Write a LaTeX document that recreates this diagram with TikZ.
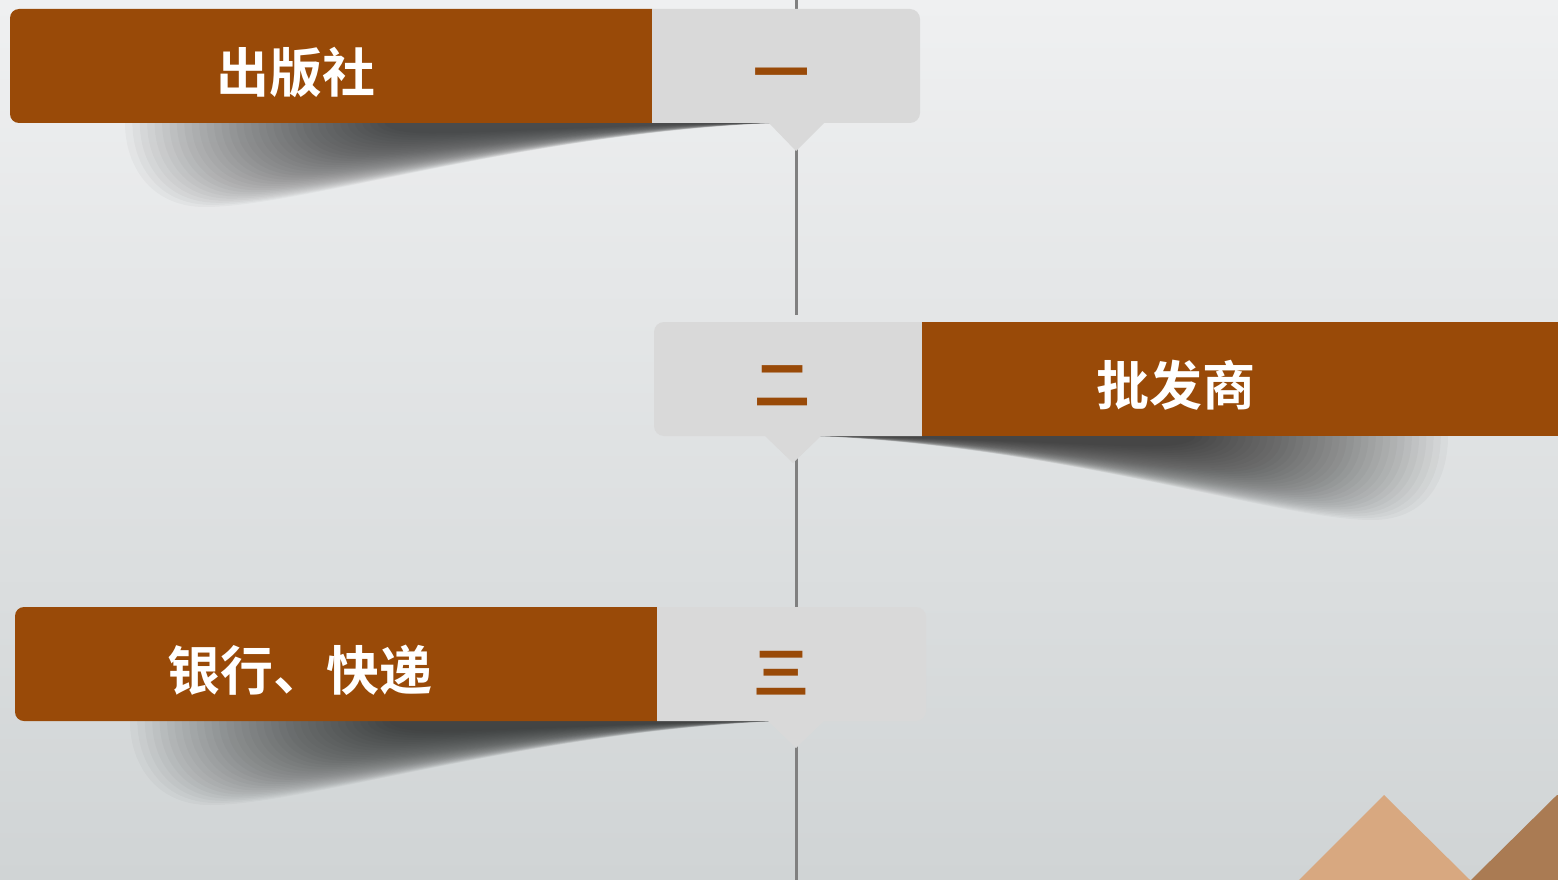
\documentclass[tikz,border=0pt]{standalone}
\usepackage{fontspec}
\newfontfamily\cjkb{Noto Sans CJK SC Bold}
\definecolor{bgtop}{RGB}{239,240,241}
\definecolor{bgbot}{RGB}{208,212,213}
\definecolor{brownbox}{RGB}{153,74,8}
\definecolor{graybox}{RGB}{217,217,217}
\definecolor{linegray}{RGB}{128,128,128}
\definecolor{tan}{RGB}{216,168,128}
\definecolor{darktan}{RGB}{170,123,83}
\tikzset{
  title/.style={inner sep=0pt, anchor=base, text=white, font=\cjkb\fontsize{53}{53}\selectfont},
  numeral/.style={inner sep=0pt, anchor=base, text=brownbox, font=\cjkb\fontsize{56}{56}\selectfont},
  shadowlayer/.style={fill=black, fill opacity=0.026},
  timeline/.style={linegray, line width=3pt},
}
\begin{document}
\begin{tikzpicture}[x=1pt,y=-1pt]
\useasboundingbox (0,0) rectangle (1558,880);
\shade[top color=bgtop, bottom color=bgbot] (0,0) rectangle (1558,880);
% timeline
\coordinate (l0) at (796,0);
\coordinate (l1) at (796,315);
\coordinate (l2) at (796,322);
\coordinate (l3) at (796,880);
\draw[timeline] (l0) -- (l1);
\draw[timeline] (l2) -- (l3);
% shadows
\foreach \i in {0,...,35}{
  \pgfmathsetmacro{\sx}{1-0.0115*\i}
  \pgfmathsetmacro{\sy}{1-0.025*\i}
  \begin{scope}[shift={(770,123)}, xscale=\sx, yscale=\sy, shift={(-770,-123)}]
    \fill[shadowlayer] (770,123) .. controls (520,135) and (300,207) .. (205,207) .. controls (150,207) and (125,165) .. (125,123) -- cycle;
  \end{scope}
  \begin{scope}[shift={(820,436)}, xscale=\sx, yscale=\sy, shift={(-820,-436)}]
    \fill[shadowlayer] (820,436) .. controls (1070,448) and (1280,520) .. (1372,520) .. controls (1428,520) and (1448,478) .. (1448,436) -- cycle;
  \end{scope}
  \begin{scope}[shift={(775,721)}, xscale=\sx, yscale=\sy, shift={(-775,-721)}]
    \fill[shadowlayer] (775,721) .. controls (525,733) and (305,805) .. (210,805) .. controls (155,805) and (130,763) .. (130,721) -- cycle;
  \end{scope}
}
% box 1
\begin{scope}
  \clip (0,0) rectangle (652,880);
  \fill[brownbox, rounded corners=9] (10,9) rectangle (700,123);
\end{scope}
\begin{scope}
  \clip (652,0) rectangle (1558,880);
  \fill[graybox, rounded corners=10] (600,9) rectangle (920,123);
\end{scope}
\fill[graybox] (768,122) -- (825,122) -- (796,151) -- cycle;
% box 2
\begin{scope}
  \clip (0,0) rectangle (922,880);
  \fill[graybox, rounded corners=10] (654,322) rectangle (980,436);
\end{scope}
\fill[brownbox] (922,322) rectangle (1558,436);
\fill[graybox] (764,435) -- (822,435) -- (793,463) -- cycle;
% box 3
\begin{scope}
  \clip (0,0) rectangle (657,880);
  \fill[brownbox, rounded corners=9] (15,607) rectangle (705,721);
\end{scope}
\begin{scope}
  \clip (657,0) rectangle (1558,880);
  \fill[graybox, rounded corners=10] (600,607) rectangle (926,721);
\end{scope}
\fill[graybox] (767,720) -- (825,720) -- (796,748) -- cycle;
% texts
\node[title] (t1) at (296,93) {出版社};
\node[title] (t2) at (1176,405) {批发商};
\node[title] (t3) at (300,690) {银行、快递};
\node[numeral] (n1) at (781,94) {一};
\node[numeral] (n2) at (782,405) {二};
\node[numeral] (n3) at (781,693) {三};
% decorative triangles
\fill[tan] (1299,880) -- (1384,795) -- (1470,880) -- cycle;
\fill[darktan] (1471,880) -- (1557,795) -- (1558,795) -- (1558,880) -- cycle;
\end{tikzpicture}
\end{document}
